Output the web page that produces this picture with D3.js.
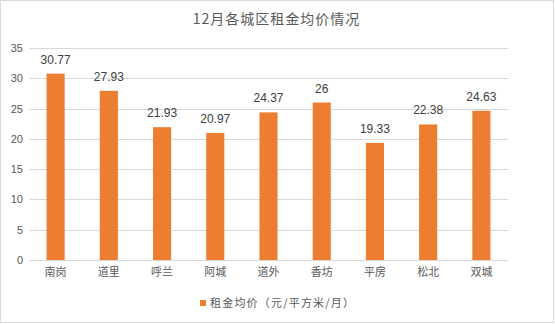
<!DOCTYPE html>
<html>
  <head>
    <meta charset="utf-8">
    <title>12月各城区租金均价情况</title>
    <script src="https://cdn.jsdelivr.net/npm/d3@7"></script>
    <style>
      body { margin: 0; background: #fff; }
      text { font-family: "Liberation Sans", Arial, sans-serif; }
      .cjk { font-family: "Noto Sans CJK SC", sans-serif; }
    </style>
  </head>
  <body>
    <div id="chart"></div>

    <script>
      // chart data
      districts = ["南岗", "道里", "呼兰", "阿城", "道外", "香坊", "平房", "松北", "双城"];
      rents = [30.77, 27.93, 21.93, 20.97, 24.37, 26, 19.33, 22.38, 24.63];
      yTicks = [0, 5, 10, 15, 20, 25, 30, 35];
      title = "12月各城区租金均价情况";
      seriesName = "租金均价（元/平方米/月）";

      width = 555;
      height = 324;
      margin = { top: 48, right: 47, bottom: 64, left: 29 };

      svg = d3.select("#chart")
        .append("svg")
          .attr("width", width)
          .attr("height", height);

      // outer frame
      svg.append("rect")
        .attr("x", 0.5).attr("y", 0.5)
        .attr("width", width - 2).attr("height", height - 2)
        .attr("fill", "#fff")
        .attr("stroke", "#d9d9d9");

      x = d3.scaleBand()
        .domain(districts)
        .range([margin.left, width - margin.right])
        .paddingInner(0.66)
        .paddingOuter(0.33);

      y = d3.scaleLinear()
        .domain([0, 35])
        .range([height - margin.bottom, margin.top]);

      // gridlines
      svg.append("g")
        .selectAll("line")
          .data(yTicks)
        .enter().append("line")
          .attr("x1", margin.left)
          .attr("x2", width - margin.right)
          .attr("y1", function(d) { return Math.round(y(d)) + 0.5; })
          .attr("y2", function(d) { return Math.round(y(d)) + 0.5; })
          .attr("stroke", "#d9d9d9");

      // y axis labels
      yAxis = svg.append("g")
        .attr("transform", "translate(" + (margin.left - 6) + ",0)")
        .call(d3.axisLeft(y).tickValues(yTicks).tickSize(0).tickPadding(0));
      yAxis.select(".domain").remove();
      yAxis.selectAll("text")
        .attr("fill", "#595959")
        .style("font-size", "11px")
        .style("font-family", "'Liberation Sans', Arial, sans-serif");

      // x axis labels
      xAxis = svg.append("g")
        .attr("transform", "translate(0," + (height - margin.bottom) + ")")
        .call(d3.axisBottom(x).tickSize(0).tickPadding(8));
      xAxis.select(".domain").remove();
      xAxis.selectAll("text")
        .attr("fill", "#595959")
        .style("font-size", "11px")
        .style("font-family", "'Noto Sans CJK SC', sans-serif");

      // bars
      svg.append("g")
        .selectAll("rect")
          .data(rents)
        .enter().append("rect")
          .attr("x", function(d, i) { return x(districts[i]); })
          .attr("y", function(d) { return y(d); })
          .attr("width", x.bandwidth())
          .attr("height", function(d) { return y(0) - y(d); })
          .attr("fill", "#ed7d31");

      // value labels
      svg.append("g")
        .selectAll("text")
          .data(rents)
        .enter().append("text")
          .attr("x", function(d, i) { return x(districts[i]) + x.bandwidth() / 2; })
          .attr("y", function(d) { return y(d) - 10; })
          .attr("text-anchor", "middle")
          .attr("fill", "#404040")
          .style("font-size", "12px")
          .text(function(d) { return d; });

      // title
      svg.append("text")
        .attr("class", "cjk")
        .attr("x", (margin.left + width - margin.right) / 2 + 8)
        .attr("y", 24)
        .attr("text-anchor", "middle")
        .attr("fill", "#595959")
        .style("font-size", "14px")
        .style("letter-spacing", "1px")
        .text(title);

      // legend
      legend = svg.append("g")
        .attr("transform", "translate(200,300)");
      legend.append("rect")
        .attr("width", 6).attr("height", 6)
        .attr("fill", "#ed7d31");
      legend.append("text")
        .attr("class", "cjk")
        .attr("x", 10)
        .attr("y", 7)
        .attr("fill", "#595959")
        .style("font-size", "11px")
        .style("letter-spacing", "1.2px")
        .text(seriesName);
    </script>
  </body>
</html>
